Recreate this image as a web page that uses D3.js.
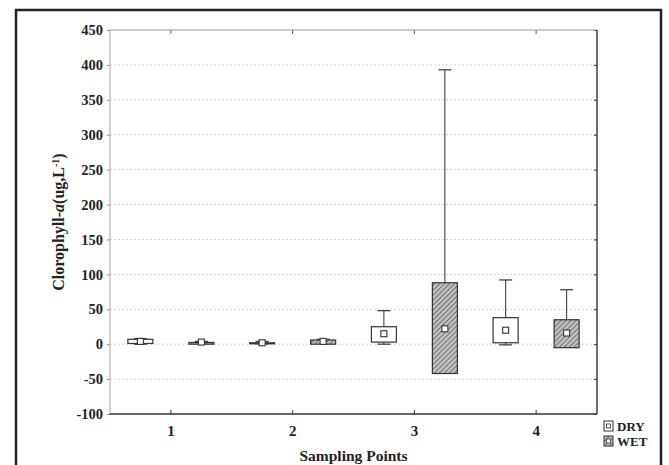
<!DOCTYPE html>
<html>
<head>
<meta charset="utf-8">
<script src="https://cdn.jsdelivr.net/npm/d3@7"></script>
<style>
  html, body { margin: 0; padding: 0; background: #fff; }
  svg { display: block; }
  text { font-family: "Liberation Serif", "Times New Roman", serif; font-weight: bold; fill: #222; }
</style>
</head>
<body>
<script>
// ---- data ----
const categories = ["1", "2", "3", "4"];
const seasons = ["DRY", "WET"];
const yTicks = [-100, -50, 0, 50, 100, 150, 200, 250, 300, 350, 400, 450];
// per season, per category
const whiskerLow = { DRY: [0, 0.5, 0, -1],  WET: [0, 0, -42, -5] };
const boxLow     = { DRY: [1, 1, 3, 2],     WET: [0, 0, -42, -5] };
const meanVal    = { DRY: [4, 2, 15, 20],   WET: [3, 4, 22, 16] };
const boxHigh    = { DRY: [7, 2, 25, 38],   WET: [2.5, 6, 88, 35] };
const whiskerHigh= { DRY: [8, 4, 48, 92],   WET: [4, 7, 393, 78] };

const W = 669, H = 465;
const plot = { left: 110, right: 597, top: 30, bottom: 414 };

const svg = d3.select("body").append("svg").attr("width", W).attr("height", H);

const defs = svg.append("defs");
const pat = defs.append("pattern").attr("id", "hatch").attr("patternUnits", "userSpaceOnUse")
  .attr("width", 3.5).attr("height", 3.5).attr("patternTransform", "rotate(45)");
pat.append("rect").attr("width", 3.5).attr("height", 3.5).attr("fill", "#c0c0c0");
pat.append("line").attr("x1", 0).attr("y1", 0).attr("x2", 0).attr("y2", 3.5)
  .attr("stroke", "#4a4a4a").attr("stroke-width", 1.3);

// outer frame
svg.append("rect").attr("x", 16).attr("y", 10).attr("width", 645).attr("height", 480)
  .attr("fill", "none").attr("stroke", "#222").attr("stroke-width", 2.5);

const x = d3.scaleBand().domain(categories).range([plot.left, plot.right]);
const xs = d3.scalePoint().domain(seasons).range([-30.5, 30.5]);
const y = d3.scaleLinear().domain([-100, 450]).range([plot.bottom, plot.top]);

// grid
svg.append("g").selectAll("line").data(yTicks.filter(t => t > -100 && t < 450)).join("line")
  .attr("x1", plot.left).attr("x2", plot.right)
  .attr("y1", d => y(d)).attr("y2", d => y(d))
  .attr("stroke", "#d2d2d2").attr("stroke-width", 1).attr("stroke-dasharray", "2,2");

// axes
const yAxis = d3.axisLeft(y).tickValues(yTicks).tickFormat(d => String(d)).tickSize(3).tickPadding(4);
const gy = svg.append("g").attr("transform", `translate(${plot.left},0)`).call(yAxis);
gy.select(".domain").remove();
gy.selectAll(".tick line").attr("stroke", "#888");
gy.selectAll("text").attr("font-size", 14.5).attr("font-family", "Liberation Serif").attr("font-weight", "bold").attr("fill", "#222");

const gyr = svg.append("g").attr("transform", `translate(${plot.right},0)`).call(d3.axisLeft(y).tickValues(yTicks).tickSize(3).tickFormat(""));
gyr.select(".domain").remove();
gyr.selectAll(".tick line").attr("stroke", "#333").attr("x2", -3);

const xAxis = d3.axisBottom(x).tickSize(0).tickPadding(11);
const gx = svg.append("g").attr("transform", `translate(0,${plot.bottom})`).call(xAxis);
gx.select(".domain").remove();
gx.selectAll("text").attr("font-size", 15).attr("font-family", "Liberation Serif").attr("font-weight", "bold").attr("fill", "#222");
gx.selectAll(".tick").append("line").attr("y1", 0).attr("y2", -4).attr("stroke", "#333");

const gxt = svg.append("g").attr("transform", `translate(0,${plot.top})`).call(d3.axisTop(x).tickSize(0).tickFormat(""));
gxt.select(".domain").remove();
gxt.selectAll(".tick").append("line").attr("y1", 0).attr("y2", 4).attr("stroke", "#555");

// plot borders
svg.append("line").attr("x1", plot.left).attr("x2", plot.left).attr("y1", plot.top).attr("y2", plot.bottom).attr("stroke", "#bbb").attr("stroke-width", 1.3);
svg.append("line").attr("x1", plot.left).attr("x2", plot.right).attr("y1", plot.top).attr("y2", plot.top).attr("stroke", "#999").attr("stroke-width", 1.2);
svg.append("line").attr("x1", plot.right).attr("x2", plot.right).attr("y1", plot.top).attr("y2", plot.bottom).attr("stroke", "#333").attr("stroke-width", 1.4);
svg.append("line").attr("x1", plot.left).attr("x2", plot.right).attr("y1", plot.bottom).attr("y2", plot.bottom).attr("stroke", "#333").attr("stroke-width", 1.5);

// boxes
const boxW = 25, capW = 13, meanS = 6;
const rows = [];
seasons.forEach(s => categories.forEach((c, i) => rows.push({
  s, c, wl: whiskerLow[s][i], bl: boxLow[s][i], m: meanVal[s][i], bh: boxHigh[s][i], wh: whiskerHigh[s][i]
})));
const cx = d => x(d.c) + x.bandwidth() / 2 + xs(d.s);

const g = svg.append("g");
const item = g.selectAll("g").data(rows).join("g");
item.append("line").attr("x1", cx).attr("x2", cx).attr("y1", d => y(d.bh)).attr("y2", d => y(d.wh)).attr("stroke", "#444").attr("stroke-width", 1.1);
item.append("line").attr("x1", cx).attr("x2", cx).attr("y1", d => y(d.bl)).attr("y2", d => y(d.wl)).attr("stroke", "#444").attr("stroke-width", 1.1);
item.filter(d => d.wh > d.bh).append("line").attr("x1", d => cx(d) - capW / 2).attr("x2", d => cx(d) + capW / 2)
  .attr("y1", d => y(d.wh)).attr("y2", d => y(d.wh)).attr("stroke", "#444").attr("stroke-width", 1.3);
item.filter(d => d.wl < d.bl).append("line").attr("x1", d => cx(d) - capW / 2).attr("x2", d => cx(d) + capW / 2)
  .attr("y1", d => y(d.wl)).attr("y2", d => y(d.wl)).attr("stroke", "#444").attr("stroke-width", 1.3);
item.append("rect").attr("x", d => cx(d) - boxW / 2).attr("width", boxW)
  .attr("y", d => y(d.bh)).attr("height", d => Math.max(1, y(d.bl) - y(d.bh)))
  .attr("fill", d => d.s === "WET" ? "url(#hatch)" : "#fff")
  .attr("stroke", "#333").attr("stroke-width", 1.2);
item.append("rect").attr("x", d => cx(d) - meanS / 2).attr("width", meanS)
  .attr("y", d => y(d.m) - meanS / 2).attr("height", meanS)
  .attr("fill", "#fff").attr("stroke", "#333").attr("stroke-width", 1.1);

// axis titles
svg.append("text").attr("x", (plot.left + plot.right) / 2).attr("y", 461).attr("text-anchor", "middle")
  .attr("font-size", 15.5).text("Sampling Points");

const yt = svg.append("text").attr("transform", `translate(64,${(plot.top + plot.bottom) / 2}) rotate(-90)`)
  .attr("text-anchor", "middle").attr("font-size", 16);
yt.append("tspan").text("Clorophyll-");
yt.append("tspan").attr("font-style", "italic").text("a");
yt.append("tspan").text("(ug,L");
yt.append("tspan").attr("baseline-shift", "super").attr("font-size", 10).text("-1");
yt.append("tspan").text(")");

// legend
const leg = svg.append("g").selectAll("g").data(seasons).join("g")
  .attr("transform", (d, i) => `translate(604,${421 + i * 15})`);
leg.append("rect").attr("width", 9).attr("height", 10)
  .attr("fill", d => d === "WET" ? "url(#hatch)" : "#fff").attr("stroke", "#333").attr("stroke-width", 1);
leg.append("rect").attr("x", 2.5).attr("y", 3).attr("width", 4).attr("height", 4)
  .attr("fill", "#fff").attr("stroke", "#333").attr("stroke-width", 0.8);
leg.append("text").attr("x", 13).attr("y", 10).attr("font-size", 13).text(d => d);
</script>
</body>
</html>
